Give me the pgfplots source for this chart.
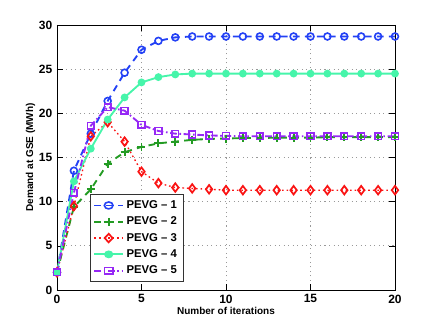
\documentclass[border=0pt]{standalone}
\usepackage{pgfplots}
\pgfplotsset{compat=1.18}
\usepackage{fontspec}
\setmainfont{Liberation Sans}
\definecolor{cBlue}{RGB}{35,65,245}
\definecolor{cGreen}{RGB}{35,155,35}
\definecolor{cRed}{RGB}{250,20,20}
\definecolor{cCyan}{RGB}{70,245,170}
\definecolor{cPurple}{RGB}{150,40,245}
\begin{document}
\begin{tikzpicture}
\begin{axis}[
  scale only axis,
  width=253.5pt, height=198.75pt,
  xmin=0, xmax=20, ymin=0, ymax=30,
  xtick={0,5,10,15,20}, ytick={0,5,10,15,20,25,30},
  grid=major,
  major grid style={dash pattern=on 0.8pt off 2.6pt, gray!80, line width=0.5pt},
  tick style={black, line width=0.4pt},
  tick align=inside,
  axis line style={line width=0.6pt},
  /pgf/number format/assume math mode=true,
  ticklabel style={font=\bfseries\fontsize{9}{10}\selectfont},
  xlabel={\bfseries Number of iterations},
  ylabel={\bfseries Demand at GSE (MWh)},
  label style={font=\fontsize{7.5}{9}\selectfont},
  xlabel style={yshift=4pt},
  ylabel style={yshift=-4pt},
  legend style={at={(0.097,0.03)}, anchor=south west, font=\bfseries\fontsize{8.5}{10}\selectfont, draw=black!80, line width=0.6pt, row sep=0.8pt, inner sep=2.5pt},
  legend image post style={xscale=1.25},
  legend cell align=left,
  every axis plot/.append style={line width=1.4pt},
]
\addplot[color=cBlue, dash pattern=on 5pt off 4pt, mark=o, mark size=2.6pt, mark options={solid, line width=1.2pt}] coordinates {
(0,2) (1,13.5) (2,17.7) (3,21.4) (4,24.6) (5,27.2) (6,28.2) (7,28.6) (8,28.7) (9,28.7) (10,28.7) (11,28.7) (12,28.7) (13,28.7) (14,28.7) (15,28.7) (16,28.7) (17,28.7) (18,28.7) (19,28.7) (20,28.7)};
\addlegendentry{PEVG -- 1}
\addplot[color=cGreen, dash pattern=on 5pt off 4pt, mark=+, mark size=3pt, mark options={solid, line width=1.4pt}] coordinates {
(0,2) (1,9.4) (2,11.4) (3,14.3) (4,15.6) (5,16.2) (6,16.6) (7,16.8) (8,17.0) (9,17.1) (10,17.15) (11,17.2) (12,17.2) (13,17.25) (14,17.25) (15,17.25) (16,17.3) (17,17.3) (18,17.3) (19,17.3) (20,17.3)};
\addlegendentry{PEVG -- 2}
\addplot[color=cRed, dash pattern=on 1.2pt off 2.2pt, line width=1pt, mark=diamond, mark size=3.2pt, mark options={solid, line width=1.3pt}] coordinates {
(0,2) (1,9.5) (2,17.4) (3,19.0) (4,16.8) (5,13.4) (6,12.1) (7,11.6) (8,11.5) (9,11.4) (10,11.3) (11,11.3) (12,11.3) (13,11.3) (14,11.3) (15,11.3) (16,11.3) (17,11.3) (18,11.3) (19,11.3) (20,11.3)};
\addlegendentry{PEVG -- 3}
\addplot[color=cCyan, solid, mark=*, mark size=2.2pt] coordinates {
(0,2) (1,12.3) (2,16.0) (3,19.3) (4,21.8) (5,23.5) (6,24.1) (7,24.4) (8,24.5) (9,24.5) (10,24.5) (11,24.5) (12,24.5) (13,24.5) (14,24.5) (15,24.5) (16,24.5) (17,24.5) (18,24.5) (19,24.5) (20,24.5)};
\addlegendentry{PEVG -- 4}
\addplot[color=cPurple, dash pattern=on 5pt off 2pt on 1.2pt off 2pt, mark=square, mark size=2.5pt, mark options={solid, line width=1.2pt}] coordinates {
(0,2) (1,11.0) (2,18.6) (3,20.7) (4,20.3) (5,18.7) (6,18.0) (7,17.7) (8,17.6) (9,17.5) (10,17.45) (11,17.4) (12,17.4) (13,17.4) (14,17.4) (15,17.4) (16,17.4) (17,17.4) (18,17.4) (19,17.4) (20,17.4)};
\addlegendentry{PEVG -- 5}
\end{axis}
\pgfresetboundingbox
\path ([shift={(-42.75pt,-28.5pt)}]current axis.south west) rectangle ([shift={(30.75pt,18.75pt)}]current axis.north east);
\end{tikzpicture}
\end{document}
